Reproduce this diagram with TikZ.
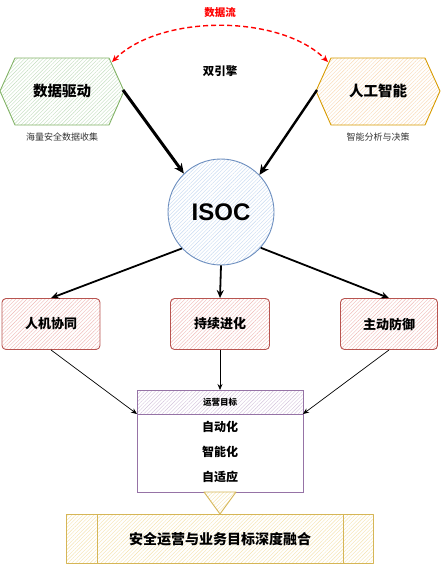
\documentclass[tikz,border=0pt]{standalone}
\usepackage{fontspec}
\setmainfont{Noto Sans CJK SC}
\newfontfamily\latinbold{Liberation Sans}
\usetikzlibrary{arrows.meta,patterns.meta}
\definecolor{gStroke}{HTML}{82B366}\definecolor{gFill}{HTML}{C2DDBE}
\definecolor{oStroke}{HTML}{D79B00}\definecolor{oFill}{HTML}{FAD9B5}
\definecolor{bStroke}{HTML}{6C8EBF}\definecolor{bFill}{HTML}{C6D9F2}
\definecolor{rStroke}{HTML}{B85450}\definecolor{rFill}{HTML}{F0B9B6}
\definecolor{pStroke}{HTML}{9673A6}\definecolor{pFill}{HTML}{D3C2DB}
\definecolor{yStroke}{HTML}{D6B656}\definecolor{yFill}{HTML}{F5E3AE}
\definecolor{flowred}{HTML}{FF0000}
\begin{document}
\begin{tikzpicture}[x=1pt,y=-1pt,
  hatched/.style n args={2}{draw=#1, line width=0.9pt, line join=round,
     preaction={fill=white},
     pattern={Lines[angle=45,distance=2.6pt,line width=0.4pt]}, pattern color=#2},
  lbl/.style={font=\bfseries\fontsize{14.5}{16}\selectfont, inner sep=0pt},
  small/.style={font=\fontsize{9}{10}\selectfont, inner sep=0pt, text=black!80},
  item/.style={font=\bfseries\fontsize{12}{14}\selectfont, inner sep=0pt},
  redbox/.style={rectangle, rounded corners=4pt, minimum height=51pt, hatched={rStroke}{rFill}, font=\bfseries\fontsize{13}{15}\selectfont, inner sep=0pt},
  midarrow/.style={line width=1.8pt, -{Stealth[length=8pt,width=7pt]}},
  thinarrow/.style={line width=0.7pt, -{Stealth[length=6pt,width=5pt]}}
]
\useasboundingbox (0,0) rectangle (440,565);

% hexagons
\draw[hatched={gStroke}{gFill}] (0,91) -- (15,58) -- (109,58) -- (124,91) -- (109,125) -- (15,125) -- cycle;
\draw[hatched={oStroke}{oFill}] (316,91) -- (331,58) -- (425,58) -- (440,91) -- (425,125) -- (331,125) -- cycle;
\coordinate (ddR) at (123,90);
\coordinate (ddT) at (112,62);
\coordinate (aiL) at (317,90);
\coordinate (aiT) at (328,62);
\node[lbl] (dd) at (62,91) {数据驱动};
\node[lbl] (ai) at (378,91) {人工智能};
\node[small] (ddsub) at (62,137) {海量安全数据收集};
\node[small] (aisub) at (378,137) {智能分析与决策};
\node[font=\bfseries\fontsize{11.5}{13}\selectfont, inner sep=0pt] (engine) at (220,71) {双引擎};

% data flow
\node[font=\bfseries\fontsize{10.5}{12}\selectfont, text=flowred, inner sep=0pt] (flow) at (220,13) {数据流};
\draw[flowred, line width=1.4pt, dash pattern=on 5pt off 3pt, {Stealth[length=7pt,width=6pt]}-{Stealth[length=7pt,width=6pt]}]
  (ddT) .. controls (160,14) and (280,14) .. (aiT);

% ISOC
\node[circle, minimum size=106pt, hatched={bStroke}{bFill}, font=\latinbold\bfseries\fontsize{24}{26}\selectfont] (isoc) at (221,212) {ISOC};

\draw[line width=3pt, -{Stealth[length=10pt,width=9pt]}] (ddR) -- (isoc.134);
\draw[line width=2.4pt, -{Stealth[length=10pt,width=9pt]}] (aiL) -- (isoc.44);

% three boxes
\node[redbox, minimum width=98pt] (hm) at (51,324) {人机协同};
\node[redbox, minimum width=99pt] (ce) at (220,324) {持续进化};
\node[redbox, minimum width=97pt] (ad) at (389,324) {主动防御};

\draw[midarrow] (isoc.223) -- (hm.north);
\draw[midarrow] (isoc.south) -- (ce.north);
\draw[midarrow] (isoc.-42) -- (ad.north);

% goal box
\draw[draw=pStroke, line width=0.9pt, fill=white] (137,390) rectangle (303,492);
\draw[hatched={pStroke}{pFill}] (137,390) rectangle (303,414);
\coordinate (goalTL) at (137,414);
\coordinate (goalTR) at (303,414);
\node[font=\bfseries\fontsize{8.5}{10}\selectfont, inner sep=0pt] (goal) at (220,402) {运营目标};
\coordinate (goalT) at (220,390);
\node[item] (i1) at (220,427) {自动化};
\node[item] (i2) at (220,452) {智能化};
\node[item] (i3) at (220,477) {自适应};

\draw[thinarrow] (hm.south) -- (goalTL);
\draw[thinarrow] (ce.south) -- (goalT);
\draw[thinarrow] (ad.south) -- (goalTR);

% triangle
\draw[hatched={yStroke}{yFill}] (204,492) -- (236,492) -- (220,514) -- cycle;

% bottom box
\draw[hatched={yStroke}{yFill}] (66,514) rectangle (373,563);
\draw[draw=yStroke, line width=0.9pt] (97,514) -- (97,563) (343,514) -- (343,563);
\node[font=\bfseries\fontsize{14}{16}\selectfont, inner sep=0pt] (fuse) at (220,539) {安全运营与业务目标深度融合};
\end{tikzpicture}
\end{document}
